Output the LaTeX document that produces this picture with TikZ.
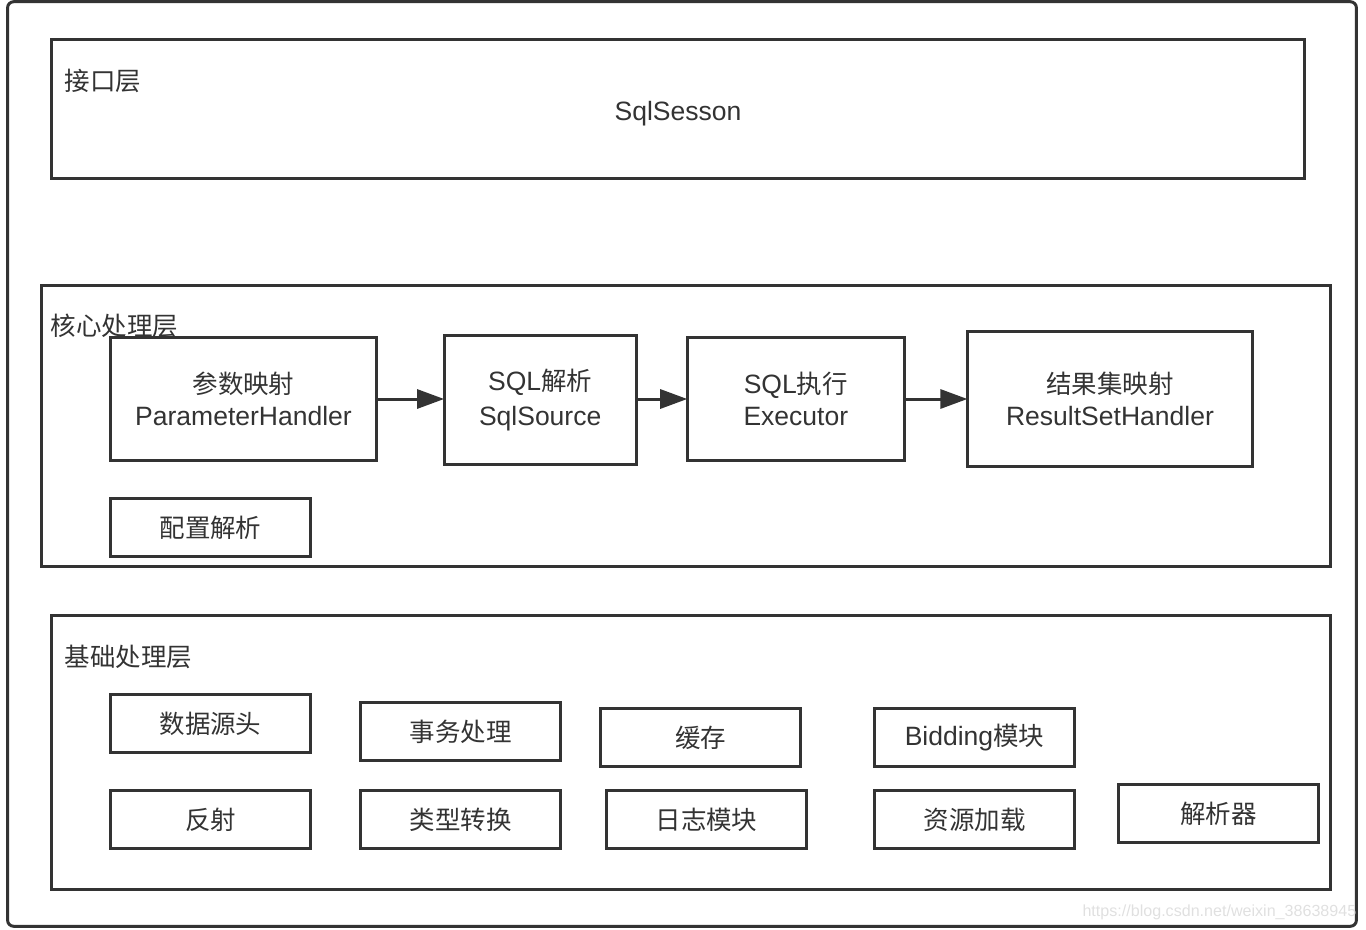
\documentclass[tikz,border=0pt]{standalone}
\usepackage{fontspec}
\setmainfont{Liberation Sans}[Scale=1.04]
\newfontfamily\cjk{Noto Sans CJK SC}
\usepackage{tikz}
\usetikzlibrary{positioning, arrows.meta}
\definecolor{ink}{HTML}{333333}

\begin{document}
\begin{tikzpicture}[x=0.01cm, y=-0.01cm, font=\fontsize{7.25pt}{9.1pt}\selectfont, text=ink]
\tikzstyle{frame} = [rectangle, draw=ink, line width=0.85pt, inner sep=0pt, outer sep=0pt]
\tikzstyle{layer} = [frame]
\tikzstyle{title} = [anchor=west, inner sep=0pt]
\tikzstyle{block} = [frame, align=center, minimum height=1.22cm]
\tikzstyle{module} = [frame, minimum width=1.99cm, minimum height=0.57cm]
\tikzstyle{arrow} = [draw=ink, line width=0.85pt, -{Triangle[length=0.27cm, width=0.19cm]}]

\useasboundingbox (0,0) rectangle (1366,930);

% outer frame and the three layers
\node (outer) [frame, rounded corners=0.06cm, minimum width=13.48cm, minimum height=9.24cm] at (682,464) {};
\node (iface) [layer, minimum width=12.52cm, minimum height=1.38cm] at (678,109) {};
\node (core) [layer, minimum width=12.88cm, minimum height=2.80cm] at (686,426) {};
\node (base) [layer, minimum width=12.78cm, minimum height=2.73cm] at (691,752.5) {};

\node (ifacetitle) [title] at (64,81) {\cjk 接口层};
\node (session) at (678,114) {SqlSesson};
\node (coretitle) [title] at (50,326) {\cjk 核心处理层};
\node (basetitle) [title] at (64,657) {\cjk 基础处理层};

% core flow
\node (param) [block, minimum width=2.65cm] at (243.5,399) {{\cjk 参数映射}\\ParameterHandler};
\node (sqlsrc) [block, minimum width=1.92cm, minimum height=1.29cm, right=0.68cm of param, yshift=-0.01cm] {SQL{\cjk 解析}\\[0.03cm]SqlSource};
\node (exec) [block, minimum width=2.17cm, right=0.51cm of param.east -| sqlsrc.east] {SQL{\cjk 执行}\\Executor};
\node (result) [block, minimum width=2.85cm, minimum height=1.35cm, right=0.63cm of exec] {{\cjk 结果集映射}\\ResultSetHandler};
\node (config) [module] at (210.5,527.5) {\cjk 配置解析};

\draw [arrow] (param) -- (param -| sqlsrc.west);
\draw [arrow] (exec.west -| sqlsrc.east) -- (exec);
\draw [arrow] (exec) -- (result);

% base modules
\node (datasrc) [module] at (210.5,723.5) {\cjk 数据源头};
\node (trans) [module] at (460.5,731.5) {\cjk 事务处理};
\node (cache) [module] at (700.5,737.5) {\cjk 缓存};
\node (binding) [module] at (974.5,737.5) {Bidding{\cjk 模块}};
\node (reflect) [module] at (210.5,819.5) {\cjk 反射};
\node (typeconv) [module] at (460.5,819.5) {\cjk 类型转换};
\node (logging) [module] at (706.5,819.5) {\cjk 日志模块};
\node (resload) [module] at (974.5,819.5) {\cjk 资源加载};
\node (parser) [module] at (1218.5,813.5) {\cjk 解析器};

\node (mark) [anchor=east, inner sep=0pt, text=black!12, font=\fontsize{4.4pt}{5pt}\selectfont] at (1357,912) {https://blog.csdn.net/weixin\_38638945};
\end{tikzpicture}
\end{document}
